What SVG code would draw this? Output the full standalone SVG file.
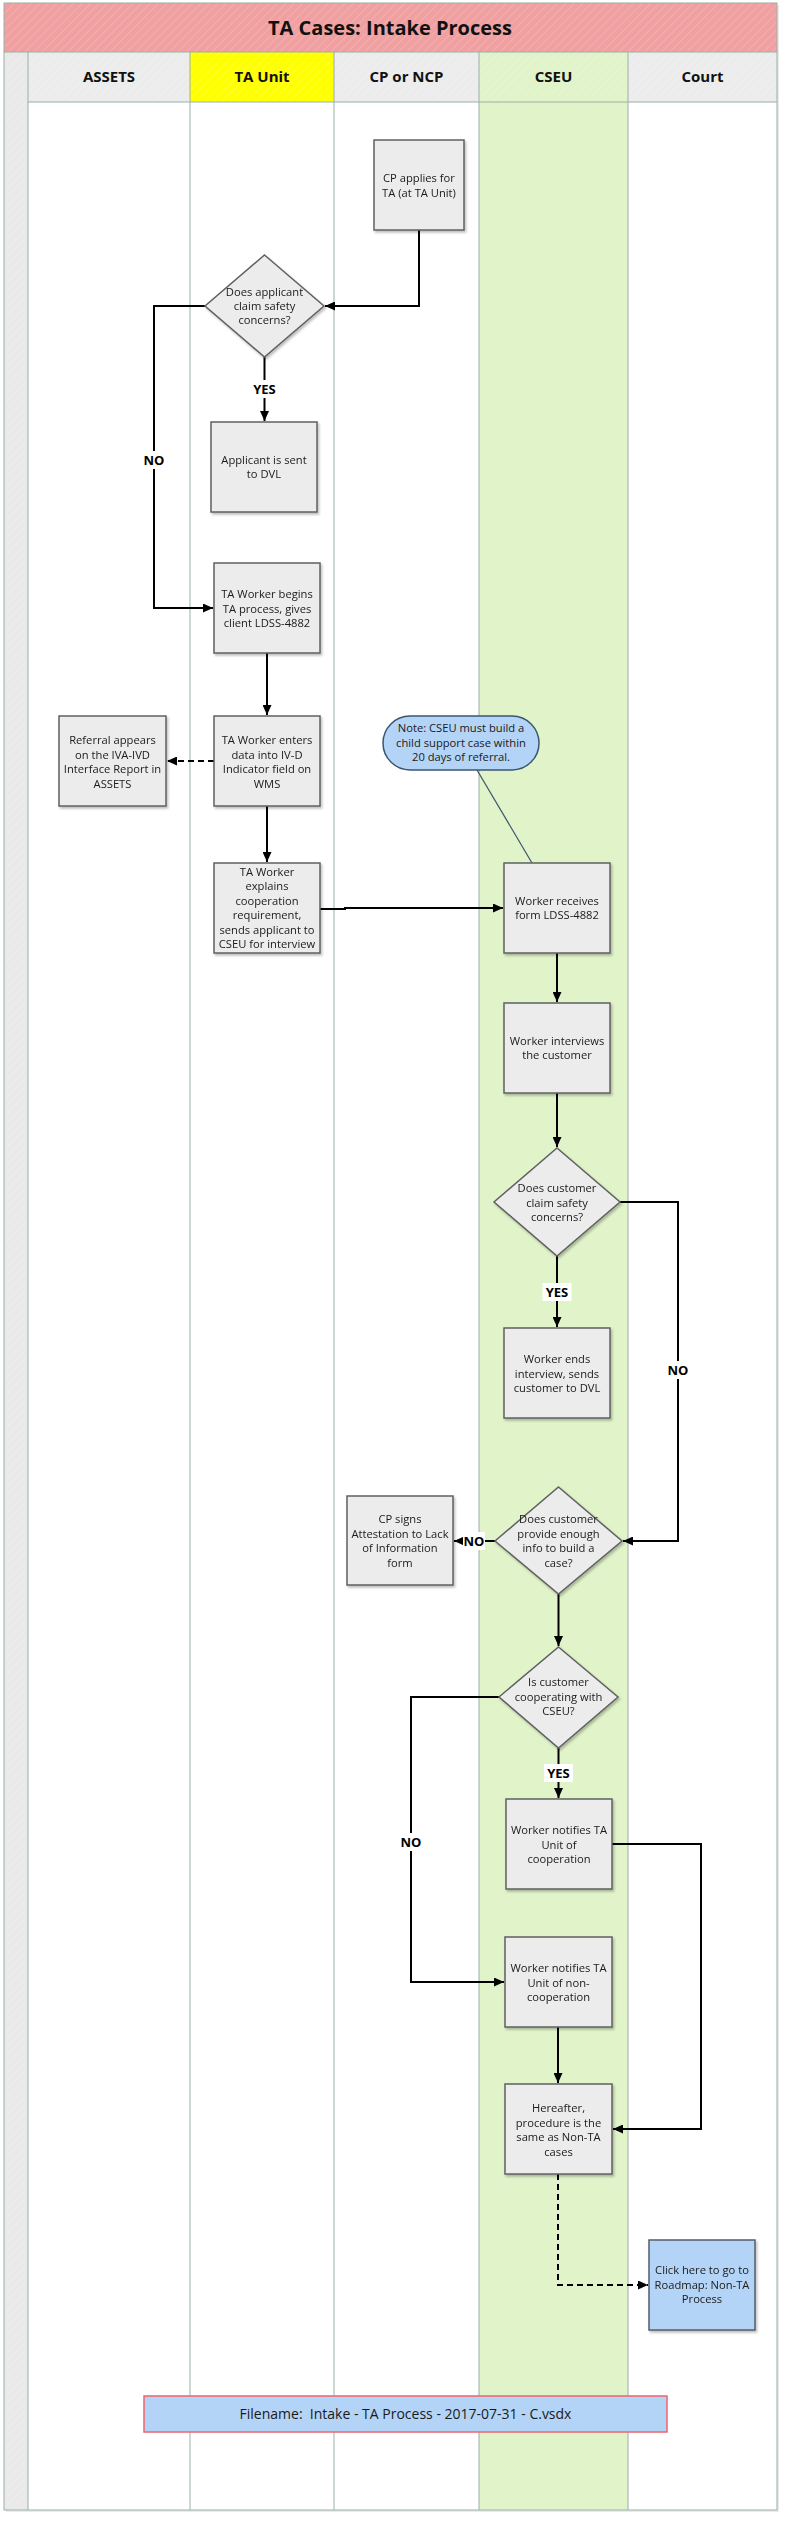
<svg xmlns="http://www.w3.org/2000/svg" width="796" height="2524" viewBox="0 0 796 2524">
<style>
.lane{stroke:#9cb0a6;stroke-width:1;fill:none}
.box{fill:#ececec;stroke:#606060;stroke-width:1.5}
.blue{fill:#b3d4f7;stroke:#555e6a;stroke-width:1.5}
.t{font-family:"Open Sans","Noto Sans",sans-serif;font-size:11.2px;fill:#1a1a1a;text-anchor:middle}
.h{font-family:"Open Sans","Noto Sans",sans-serif;font-size:15px;font-weight:bold;fill:#111;text-anchor:middle}
.lbl{font-family:"Open Sans","Noto Sans",sans-serif;font-size:13px;font-weight:bold;fill:#000;text-anchor:middle}
.c{stroke:#000;stroke-width:2;fill:none}
.d{stroke:#000;stroke-width:2;fill:none;stroke-dasharray:6 4}
.lb{fill:#fff}
</style>
<defs>
<pattern id="hatch" width="6" height="6" patternUnits="userSpaceOnUse" patternTransform="rotate(45)">
<line x1="0" y1="0" x2="0" y2="6" stroke="#ffffff" stroke-opacity="0.22" stroke-width="1.5"/>
</pattern>
<marker id="ah" markerWidth="11" markerHeight="9" refX="10" refY="4.5" orient="auto" markerUnits="userSpaceOnUse">
<path d="M0,0 L10,4.5 L0,9 z" fill="#000"/>
</marker>
<filter id="sh" x="-10%" y="-10%" width="130%" height="130%">
<feDropShadow dx="1.5" dy="2" stdDeviation="1.2" flood-color="#000" flood-opacity="0.25"/>
</filter>
</defs>

<g id="frame">
<rect x="6" y="5" width="773" height="2507" fill="#000" opacity="0.08"/>
<rect x="4" y="3" width="773" height="2507" fill="#fff"/>
<rect x="4" y="3" width="773" height="49" fill="#f0a0a0"/>
<rect x="4" y="3" width="773" height="49" fill="url(#hatch)"/>
<rect x="4" y="52" width="24" height="2458" fill="#e9e9e9"/>
<rect x="4" y="52" width="24" height="2458" fill="url(#hatch)"/>
<rect x="28" y="52" width="162" height="50" fill="#ececec"/>
<rect x="190" y="52" width="144" height="50" fill="#ffff00"/>
<rect x="334" y="52" width="145" height="50" fill="#ececec"/>
<rect x="479" y="52" width="149" height="2458" fill="#e0f3c9"/>
<rect x="628" y="52" width="149" height="50" fill="#ececec"/>
<rect x="28" y="52" width="749" height="50" fill="url(#hatch)"/>
<rect x="4" y="3" width="773" height="2507" class="lane"/>
<line x1="4" y1="52" x2="777" y2="52" class="lane"/>
<line x1="28" y1="102" x2="777" y2="102" class="lane"/>
<line x1="28" y1="52" x2="28" y2="2510" class="lane"/>
<line x1="190" y1="52" x2="190" y2="2510" class="lane"/>
<line x1="334" y1="52" x2="334" y2="2510" class="lane"/>
<line x1="479" y1="52" x2="479" y2="2510" class="lane"/>
<line x1="628" y1="52" x2="628" y2="2510" class="lane"/>
<text x="390" y="35" font-family="'Open Sans','Noto Sans',sans-serif" font-size="20" font-weight="bold" fill="#111" text-anchor="middle">TA Cases: Intake Process</text>
<text class="h" x="109" y="82">ASSETS</text>
<text class="h" x="262" y="82">TA Unit</text>
<text class="h" x="406.5" y="82">CP or NCP</text>
<text class="h" x="553.5" y="82">CSEU</text>
<text class="h" x="702.5" y="82">Court</text>
</g>

<g id="connectors">
<polyline class="c" points="419,230 419,306 325,306" marker-end="url(#ah)"/>
<polyline class="c" points="264.5,357 264.5,421" marker-end="url(#ah)"/>
<polyline class="c" points="205,306 154,306 154,608 213,608" marker-end="url(#ah)"/>
<polyline class="c" points="267,653 267,715" marker-end="url(#ah)"/>
<polyline class="d" points="214,761 167,761" marker-end="url(#ah)"/>
<polyline class="c" points="267,806 267,862" marker-end="url(#ah)"/>
<polyline class="c" points="320,909 345,909 345,908 503,908" marker-end="url(#ah)"/>
<line x1="477" y1="770" x2="532" y2="863" stroke="#3b5670" stroke-width="1.2"/>
<polyline class="c" points="557,953 557,1002" marker-end="url(#ah)"/>
<polyline class="c" points="557,1093 557,1147" marker-end="url(#ah)"/>
<polyline class="c" points="557,1256 557,1327" marker-end="url(#ah)"/>
<polyline class="c" points="620,1202 678,1202 678,1541 623,1541" marker-end="url(#ah)"/>
<polyline class="c" points="495,1541 454,1541" marker-end="url(#ah)"/>
<polyline class="c" points="558.5,1594 558.5,1646" marker-end="url(#ah)"/>
<polyline class="c" points="558.5,1748 558.5,1798" marker-end="url(#ah)"/>
<polyline class="c" points="499,1697 411,1697 411,1982 504,1982" marker-end="url(#ah)"/>
<polyline class="c" points="612,1844 701,1844 701,2129 613,2129" marker-end="url(#ah)"/>
<polyline class="c" points="558,2027 558,2083" marker-end="url(#ah)"/>
<polyline class="d" points="558,2174 558,2285 648,2285" marker-end="url(#ah)"/>
<rect class="lb" x="250" y="380" width="29" height="18"/>
<text class="lbl" x="264.5" y="394">YES</text>
<rect class="lb" x="142" y="451" width="24" height="18"/>
<text class="lbl" x="154" y="465">NO</text>
<rect class="lb" x="542.5" y="1283" width="29" height="18"/>
<text class="lbl" x="557" y="1297">YES</text>
<rect class="lb" x="666" y="1361" width="24" height="18"/>
<text class="lbl" x="678" y="1375">NO</text>
<rect class="lb" x="463" y="1532" width="22" height="18"/>
<text class="lbl" x="474" y="1546">NO</text>
<rect class="lb" x="544" y="1764" width="29" height="18"/>
<text class="lbl" x="558.5" y="1778">YES</text>
<rect class="lb" x="399" y="1833" width="24" height="18"/>
<text class="lbl" x="411" y="1847">NO</text>
</g>

<g id="n_cp_apply" filter="url(#sh)">
<rect class="box" x="374" y="140" width="90" height="90"/>
<text class="t" x="419" y="182">CP applies for<tspan x="419" dy="14.5">TA (at TA Unit)</tspan></text>
</g>
<g id="n_d1" filter="url(#sh)">
<polygon class="box" points="264.5,255 324,306 264.5,357 205,306"/>
<text class="t" x="264.5" y="296">Does applicant<tspan x="264.5" dy="14">claim safety</tspan><tspan x="264.5" dy="14">concerns?</tspan></text>
</g>
<g id="n_dvl" filter="url(#sh)">
<rect class="box" x="211" y="422" width="106" height="90"/>
<text class="t" x="264" y="464">Applicant is sent<tspan x="264" dy="14">to DVL</tspan></text>
</g>
<g id="n_ta_begin" filter="url(#sh)">
<rect class="box" x="214" y="563" width="106" height="90"/>
<text class="t" x="267" y="598">TA Worker begins<tspan x="267" dy="14.5">TA process, gives</tspan><tspan x="267" dy="14.5">client LDSS-4882</tspan></text>
</g>
<g id="n_ta_enter" filter="url(#sh)">
<rect class="box" x="214" y="716" width="106" height="90"/>
<text class="t" x="267" y="744">TA Worker enters<tspan x="267" dy="14.5">data into IV-D</tspan><tspan x="267" dy="14.5">Indicator field on</tspan><tspan x="267" dy="14.5">WMS</tspan></text>
</g>
<g id="n_referral" filter="url(#sh)">
<rect class="box" x="59" y="716" width="107" height="90"/>
<text class="t" x="112.5" y="744">Referral appears<tspan x="112.5" dy="14.5">on the IVA-IVD</tspan><tspan x="112.5" dy="14.5">Interface Report in</tspan><tspan x="112.5" dy="14.5">ASSETS</tspan></text>
</g>
<g id="n_ta_explain" filter="url(#sh)">
<rect class="box" x="214" y="863" width="106" height="90"/>
<text class="t" x="267" y="876">TA Worker<tspan x="267" dy="14.4">explains</tspan><tspan x="267" dy="14.4">cooperation</tspan><tspan x="267" dy="14.4">requirement,</tspan><tspan x="267" dy="14.4">sends applicant to</tspan><tspan x="267" dy="14.4">CSEU for interview</tspan></text>
</g>
<g id="n_note">
<rect x="383" y="716" width="156" height="54" rx="27" ry="27" fill="#b3d4f7" stroke="#3b5670" stroke-width="1.5"/>
<text class="t" x="461" y="732">Note: CSEU must build a<tspan x="461" dy="14.5">child support case within</tspan><tspan x="461" dy="14.5">20 days of referral.</tspan></text>
</g>
<g id="n_w_receive" filter="url(#sh)">
<rect class="box" x="504" y="863" width="106" height="90"/>
<text class="t" x="557" y="905">Worker receives<tspan x="557" dy="14">form LDSS-4882</tspan></text>
</g>
<g id="n_w_interview" filter="url(#sh)">
<rect class="box" x="504" y="1003" width="106" height="90"/>
<text class="t" x="557" y="1045">Worker interviews<tspan x="557" dy="14">the customer</tspan></text>
</g>
<g id="n_d2" filter="url(#sh)">
<polygon class="box" points="557,1148 620,1202 557,1256 494,1202"/>
<text class="t" x="557" y="1192">Does customer<tspan x="557" dy="14.5">claim safety</tspan><tspan x="557" dy="14.5">concerns?</tspan></text>
</g>
<g id="n_w_end" filter="url(#sh)">
<rect class="box" x="504" y="1328" width="106" height="90"/>
<text class="t" x="557" y="1363">Worker ends<tspan x="557" dy="14.5">interview, sends</tspan><tspan x="557" dy="14.5">customer to DVL</tspan></text>
</g>
<g id="n_d3" filter="url(#sh)">
<polygon class="box" points="558.5,1487 622,1541 558.5,1594 495,1541"/>
<text class="t" x="558.5" y="1523">Does customer<tspan x="558.5" dy="14.5">provide enough</tspan><tspan x="558.5" dy="14.5">info to build a</tspan><tspan x="558.5" dy="14.5">case?</tspan></text>
</g>
<g id="n_cp_sign" filter="url(#sh)">
<rect class="box" x="347" y="1496" width="106" height="89"/>
<text class="t" x="400" y="1523">CP signs<tspan x="400" dy="14.5">Attestation to Lack</tspan><tspan x="400" dy="14.5">of Information</tspan><tspan x="400" dy="14.5">form</tspan></text>
</g>
<g id="n_d4" filter="url(#sh)">
<polygon class="box" points="558.5,1647 618,1697 558.5,1748 499,1697"/>
<text class="t" x="558.5" y="1686">Is customer<tspan x="558.5" dy="14.5">cooperating with</tspan><tspan x="558.5" dy="14.5">CSEU?</tspan></text>
</g>
<g id="n_w_coop" filter="url(#sh)">
<rect class="box" x="506" y="1799" width="106" height="90"/>
<text class="t" x="559" y="1834">Worker notifies TA<tspan x="559" dy="14.5">Unit of</tspan><tspan x="559" dy="14.5">cooperation</tspan></text>
</g>
<g id="n_w_noncoop" filter="url(#sh)">
<rect class="box" x="505" y="1937" width="107" height="90"/>
<text class="t" x="558.5" y="1972">Worker notifies TA<tspan x="558.5" dy="14.5">Unit of non-</tspan><tspan x="558.5" dy="14.5">cooperation</tspan></text>
</g>
<g id="n_hereafter" filter="url(#sh)">
<rect class="box" x="505" y="2084" width="107" height="90"/>
<text class="t" x="558.5" y="2112">Hereafter,<tspan x="558.5" dy="14.5">procedure is the</tspan><tspan x="558.5" dy="14.5">same as Non-TA</tspan><tspan x="558.5" dy="14.5">cases</tspan></text>
</g>
<g id="n_click" filter="url(#sh)">
<rect class="blue" x="649" y="2240" width="106" height="90"/>
<text class="t" x="702" y="2274">Click here to go to<tspan x="702" dy="14.5">Roadmap: Non-TA</tspan><tspan x="702" dy="14.5">Process</tspan></text>
</g>
<g id="n_filename">
<rect x="144" y="2396" width="523" height="36" fill="#b3d4f7" stroke="#f0646e" stroke-width="1.5"/>
<text class="t" x="405.5" y="2419" style="font-size:14px">Filename:&#160; Intake - TA Process - 2017-07-31 - C.vsdx</text>
</g>
</svg>
